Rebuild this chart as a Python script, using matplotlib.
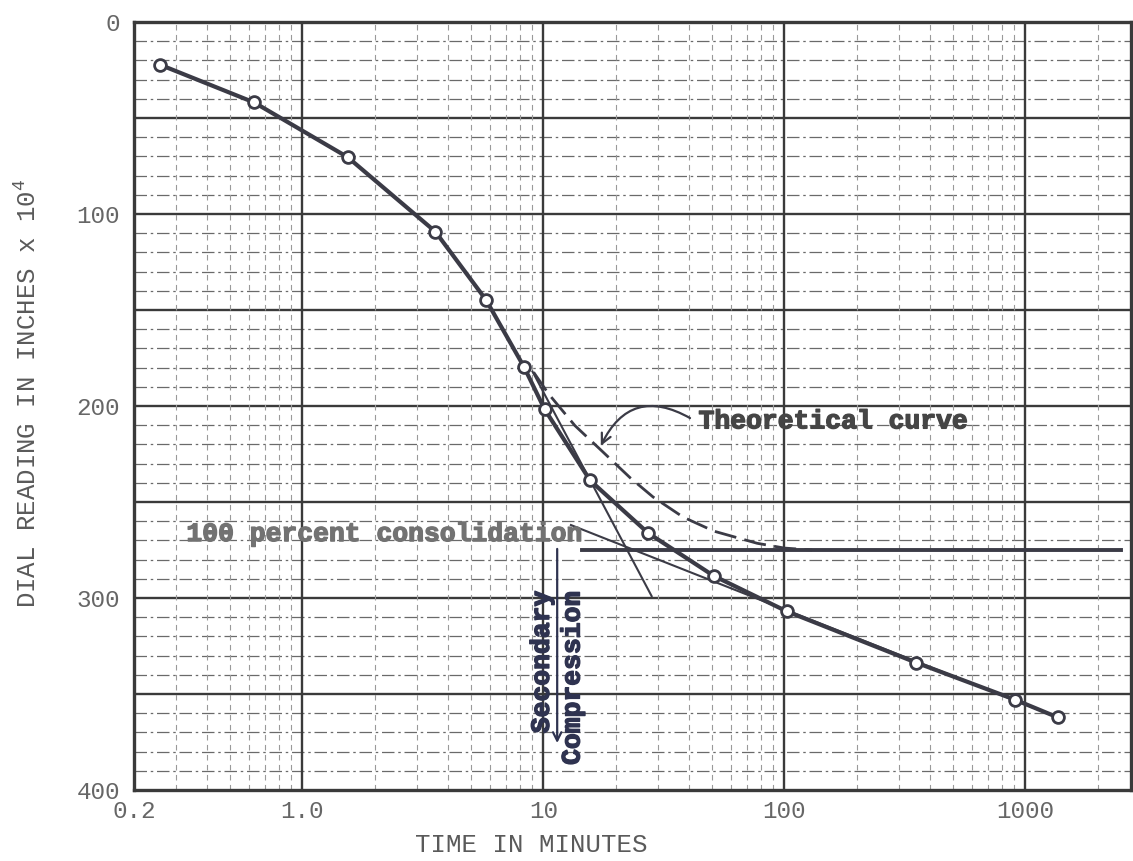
import matplotlib
matplotlib.use("Agg")
import matplotlib.pyplot as plt
import matplotlib.patheffects as pe

# readings taken off the scanned curve
time_min = [0.257, 0.63, 1.54, 3.56, 5.78, 8.3, 10.1, 15.6, 27.2, 50.9, 102, 351, 906, 1362]
dial = [22.3, 41.9, 70.4, 109.2, 144.8, 179.6, 201.6, 238.7, 266.2, 288.5, 306.9, 333.6, 353, 362.2]

# dashed theoretical curve
theory_t = [9.1, 10.5, 13.5, 17.5, 22.9, 28.5, 38, 51, 77, 100, 130]
theory_d = [182.4, 193.7, 210.2, 223.5, 237.4, 247.4, 257.9, 265.2, 271.5, 274, 275]

# construction lines
primary_tan_t = [9.0, 28.1]
primary_tan_d = [182, 299]
secondary_tan_t = [13.0, 1362]
secondary_tan_d = [262, 362.2]
consol_t = [14.5, 2480]
consol_d = [275, 275]

xticks = [0.2, 1, 10, 100, 1000]
xticklabels = ['0.2', '1.0', '10', '100', '1000']
yticks = [0, 100, 200, 300, 400]

mono = 'Liberation Mono'
ink = '#3b3b46'


def heavy(c):
    return [pe.withStroke(linewidth=1.0, foreground=c)]


fig = plt.figure(figsize=(11.33, 8.61), dpi=100)
ax = fig.add_axes([134/1133, 1-790/861, 997/1133, 768/861])
ax.set_xscale('log')
ax.set_xlim(0.2, 2740)
ax.set_ylim(400, 0)

# graph paper
for y in range(10, 400, 10):
    if y % 50 == 0:
        ax.axhline(y, color='#3a3a3a', lw=1.7, zorder=1)
    else:
        ax.axhline(y, color='#6a6a6a', lw=0.9, ls=(0, (10, 3, 2, 3)), zorder=1)
for dec in [0.1, 1, 10, 100, 1000]:
    for k in range(2, 10):
        v = dec * k
        if 0.2 < v < 2740:
            ax.axvline(v, color='#9a9a9a', lw=0.8, ls=(0, (5, 4)), zorder=1)
for v in [1, 10, 100, 1000]:
    ax.axvline(v, color='#3a3a3a', lw=1.7, zorder=1)

for s in ax.spines.values():
    s.set_linewidth(2.4)
    s.set_color('#3a3a3a')

# curves
ax.plot(consol_t, consol_d, color=ink, lw=2.8, zorder=3)
ax.plot(theory_t, theory_d, color=ink, lw=2.0, ls=(0, (8, 3)), zorder=3)
ax.plot(primary_tan_t, primary_tan_d, color=ink, lw=1.5, zorder=3)
ax.plot(secondary_tan_t, secondary_tan_d, color=ink, lw=1.5, zorder=3)
ax.plot(time_min, dial, color=ink, lw=3.0, marker='o', ms=8.5, mfc='white',
        mec=ink, mew=2.0, zorder=4)

# annotations
ax.text(44, 208, 'Theoretical curve', family=mono, fontweight='bold',
        fontsize=19, color='#454545', ha='left', va='center', zorder=5,
        path_effects=heavy('#454545'))
ax.annotate('', xy=(17.1, 222), xytext=(41.5, 207),
            arrowprops=dict(arrowstyle='->,head_length=0.7,head_width=0.35',
                            connectionstyle='arc3,rad=0.55', color=ink, lw=1.6),
            zorder=5)
ax.text(0.33, 266.7, '100 percent consolidation', family=mono, fontweight='bold',
        fontsize=19, color='#727272', ha='left', va='center', zorder=5,
        path_effects=heavy('#727272'))
ax.annotate('', xy=(11.4, 377), xytext=(11.4, 273),
            arrowprops=dict(arrowstyle='->,head_length=0.6,head_width=0.3',
                            color='#2f3350', lw=1.6), zorder=5)
ax.text(11.4, 296, 'Secondary\nCompression', rotation=90, family=mono,
        fontweight='bold', fontsize=19, color='#2f3350', ha='center', va='top',
        multialignment='right', linespacing=1.35, zorder=6,
        path_effects=heavy('#2f3350'))

# ticks and labels
ax.xaxis.set_major_locator(plt.FixedLocator(xticks))
ax.xaxis.set_minor_locator(plt.NullLocator())
ax.set_xticklabels(xticklabels)
ax.set_yticks(yticks)
ax.tick_params(length=0, labelsize=17.5, labelcolor='#666666')
ax.tick_params(axis='y', pad=10)
ax.tick_params(axis='x', pad=7)
for lab in ax.get_xticklabels() + ax.get_yticklabels():
    lab.set_family(mono)

fig.text(531/1133, 1-845/861, 'TIME IN MINUTES', family=mono, fontsize=18.5,
         color='#5a5a5a', ha='center', va='center')
fig.text(28/1133, 1-393/861, r'DIAL READING IN INCHES x 10$^{\mathregular{4}}$',
         family=mono, fontsize=18.5, color='#5a5a5a', rotation=90,
         ha='center', va='center')

fig.savefig('out.png', dpi=100)
